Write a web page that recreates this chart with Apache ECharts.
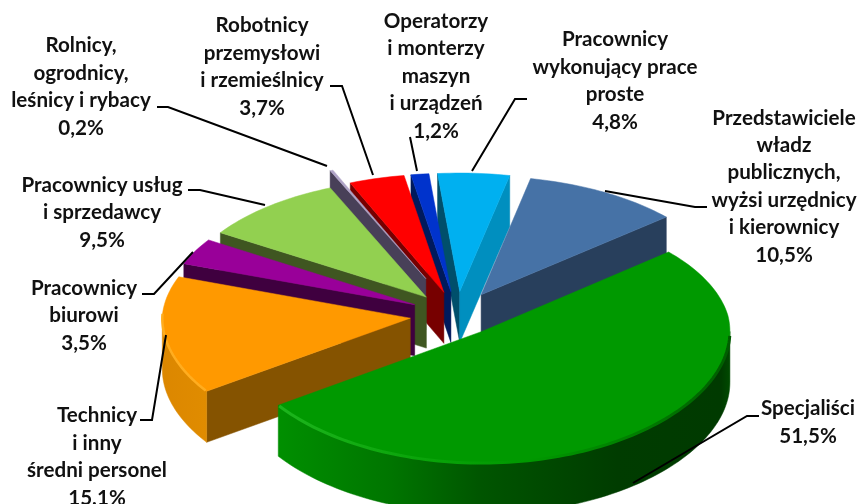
<!DOCTYPE html>
<html><head><meta charset="utf-8">
<style>html,body{margin:0;padding:0;background:#fff}#c{width:860px;height:504px}</style>
<script src="https://cdn.jsdelivr.net/npm/echarts@6/dist/echarts.min.js"></script>
</head><body><div id="c"></div>
<script>
// ---- data (clockwise from the first slice) ----
const categories = [
  'Przedstawiciele\nwładz\npublicznych,\nwyżsi urzędnicy\ni kierownicy',
  'Specjaliści',
  'Technicy\ni inny\nśredni personel',
  'Pracownicy\nbiurowi',
  'Pracownicy usług\ni sprzedawcy',
  'Rolnicy,\nogrodnicy,\nleśnicy i rybacy',
  'Robotnicy\nprzemysłowi\ni rzemieślnicy',
  'Operatorzy\ni monterzy\nmaszyn\ni urządzeń',
  'Pracownicy\nwykonujący prace\nproste'
];
const values = [10.5, 51.5, 15.1, 3.5, 9.5, 0.2, 3.7, 1.2, 4.8];

// ---- styles and layout ----
const paintOrder = [8, 0, 7, 6, 5, 4, 3, 2, 1];
const explode = [.19, .165, .19, .19, .19, .32, .19, .19, .19];
const tops  = ['#4672A6', '#009900', '#FF9900', '#990099', '#92D050', '#AFA3C6', '#FF0000', '#0033CC', '#00B0F0'];
const sideA = ['#4672A6', '#009900', '#855300', '#3F003F', '#3F5621', '#484058', '#770000', '#001A5C', '#004F6B']; // start cut
const sideB = ['#283F5C', '#009900', '#FF9900', '#990099', '#92D050', '#AFA3C6', '#FF0000', '#0033CC', '#008FBF']; // end cut
const percentPos = [[784,255],[808,436],[97,498],[84,343],[102,240],[81,128],[262,108],[436,131],[615,122]];
const leaders = [
  [[707,207],[695,207],[605,191]],
  [[759,416],[747,416],[633,483]],
  [[140,420],[152,420],[166,335]],
  [[142,294],[154,294],[193,252]],
  [[188,190],[200,190],[265,205]],
  [[157,107],[168,107],[327,166]],
  [[330,86],[342,86],[373,175]],
  [[410,137],[417,171]],
  [[527,99],[515,99],[472,171]]
];
const START = 12, CX = 457, CY = 315, RX = 248, RY = 125, PERSP = .04, FAR_SHRINK = .025, DEPTH = 51;
const LINE = 27.4, FONT = 'bold 20.6px Lato';

// angles from the values
const total = values.reduce((a, b) => a + b, 0);
const a0s = [], a1s = [];
values.reduce((cum, v, i) => {
  a0s[i] = START + cum / total * 360;
  a1s[i] = START + (cum + v) / total * 360;
  return cum + v;
}, 0);
const rad = d => d * Math.PI / 180;
function project(u, v) {
  const sx = v < 0 ? 1 + FAR_SHRINK * v : 1;
  return [CX + RX * u * sx, CY + RY * v / (1 - PERSP * v)];
}
function grad(stops) {
  return new echarts.graphic.LinearGradient(0, 0, 1, 0, stops.map(s => ({ offset: s[0], color: s[1] })));
}
const down = p => [p[0], p[1] + DEPTH];

function sliceShapes(i) {
  const a0 = a0s[i], a1 = a1s[i], mid = rad((a0 + a1) / 2), e = explode[i];
  const ox = e * Math.sin(mid), oy = -e * Math.cos(mid);
  const pt = a => project(ox + Math.sin(rad(a)), oy - Math.cos(rad(a)));
  const apex = project(ox, oy);
  const arc = (s, t) => {
    const n = Math.max(2, Math.ceil(Math.abs(t - s) / 1.5)), r = [];
    for (let k = 0; k <= n; k++) r.push(pt(s + (t - s) * k / n));
    return r;
  };
  const out = [];
  const poly = (points, fill) => out.push({ type: 'polygon', shape: { points }, style: { fill, stroke: fill, lineWidth: .5 } });
  // cut faces facing the viewer
  if (Math.sin(rad(a0)) < 0) poly([apex, pt(a0), down(pt(a0)), down(apex)], sideA[i]);
  if (Math.sin(rad(a1)) > 0) poly([apex, pt(a1), down(pt(a1)), down(apex)], sideB[i]);
  // rim wall facing the viewer
  const s = Math.max(a0, 90), t = Math.min(a1, 270);
  if (t > s) {
    const top = arc(s, t);
    const fill = i === 1
      ? grad([[0, '#008F00'], [.25, '#007500'], [.45, '#005500'], [.75, '#003C00'], [.98, '#003A00'], [1, '#004A00']])
      : grad([[0, '#DC8700'], [1, '#E08C00']]);
    poly(top.concat(top.map(down).reverse()), fill);
  }
  // top face
  const face = [apex].concat(arc(a0, a1));
  poly(face, tops[i]);
  // bevel highlight along the near rim
  if (i === 1) {
    out.push({ type: 'polyline', shape: { points: arc(92, a1 - .4) },
      style: { fill: 'none', lineWidth: 3, stroke: grad([[0, '#1DB51D'], [.3, '#0BA50B'], [.55, '#009900'], [.8, '#007D00'], [1, '#005C00']]) } });
  }
  if (i === 2) {
    out.push({ type: 'polyline', shape: { points: arc(a0 + .4, 272) },
      style: { fill: 'none', lineWidth: 2.5, stroke: '#FFAD1F' } });
  }
  return out;
}

const pct = v => v.toFixed(1).replace('.', ',') + '%';
function labelShapes(i) {
  const lines = categories[i].split('\n').concat([pct(values[i])]);
  const [px, py] = percentPos[i];
  const out = lines.map((l, k) => ({ type: 'text', style: {
    text: l, x: px, y: py - (lines.length - 1 - k) * LINE,
    align: 'center', verticalAlign: 'middle', font: FONT, fill: '#111' } }));
  out.push({ type: 'polyline', shape: { points: leaders[i] }, style: { fill: 'none', stroke: '#000', lineWidth: 2 } });
  return out;
}

const chart = echarts.init(document.getElementById('c'), null, { renderer: 'canvas' });
chart.setOption({
  animation: false,
  backgroundColor: '#fff',
  series: [
    { type: 'custom', coordinateSystem: 'none', silent: true, z: 2, clip: false,
      data: paintOrder.map(i => [i, values[i]]),
      renderItem: (p, api) => ({ type: 'group', children: sliceShapes(api.value(0)) }) },
    { type: 'custom', coordinateSystem: 'none', silent: true, z: 3, clip: false,
      data: categories.map((c, i) => [i, values[i]]),
      renderItem: (p, api) => ({ type: 'group', children: labelShapes(api.value(0)) }) }
  ]
});
</script></body></html>
